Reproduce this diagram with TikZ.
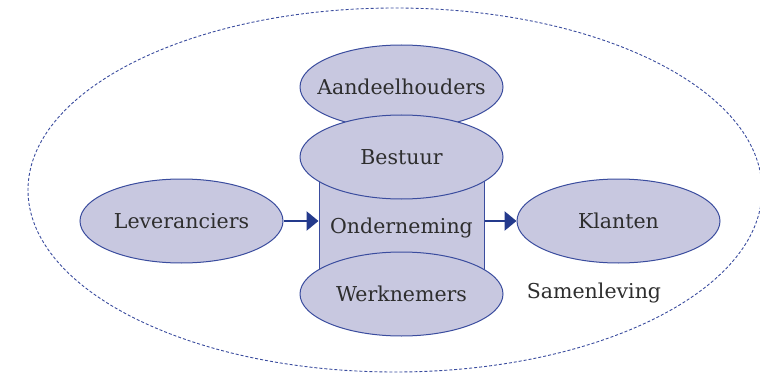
\documentclass[tikz,border=0pt]{standalone}
\usepackage{fontspec}
\setmainfont{DejaVu Serif}
\usetikzlibrary{shapes.geometric,arrows.meta}
\definecolor{fillc}{HTML}{C8C8E0}
\definecolor{edgec}{HTML}{3A4C9E}
\definecolor{arrc}{HTML}{243A8C}
\definecolor{txtc}{HTML}{2E2E2E}
\tikzset{
  lbl/.style={text=txtc, font=\fontsize{20.5}{24}\selectfont, inner sep=0pt},
  oval/.style={ellipse, draw=edgec, fill=fillc, line width=1pt, minimum width=203pt, minimum height=84pt, inner sep=0pt},
  flow/.style={draw=arrc, line width=2.6pt, -{Triangle[length=12pt,width=19pt]}}
}
\begin{document}
\begin{tikzpicture}[x=1pt,y=-1pt]
\useasboundingbox (0,0) rectangle (760,377);
\node[ellipse, draw=edgec, dashed, dash pattern=on 3pt off 2pt, line width=0.9pt, minimum width=734pt, minimum height=364pt, inner sep=0pt] (soc) at (395,190) {};
\node[rectangle, draw=edgec, fill=fillc, line width=1pt, minimum width=165pt, minimum height=137pt, inner sep=0pt] (ond) at (401.5,225) {};
\node[lbl] (ondt) at (401.5,228) {Onderneming};
\node[oval] (aan) at (401.5,87) {};
\node[lbl] (aant) at (aan.center) {Aandeelhouders};
\node[oval] (bes) at (401.5,157) {};
\node[lbl] (best) at (bes.center) {Bestuur};
\node[oval] (wer) at (401.5,294) {};
\node[lbl] (wert) at (wer.center) {Werknemers};
\node[oval] (lev) at (181.5,221) {};
\node[lbl] (levt) at (lev.center) {Leveranciers};
\node[oval] (kla) at (618.5,221) {};
\node[lbl] (klat) at (kla.center) {Klanten};
\node[lbl] (sam) at (594,293) {Samenleving};
\draw[flow] (lev.east) -- (lev.east -| ond.west);
\draw[flow] (kla.west -| ond.east) -- (kla.west);
\end{tikzpicture}
\end{document}
